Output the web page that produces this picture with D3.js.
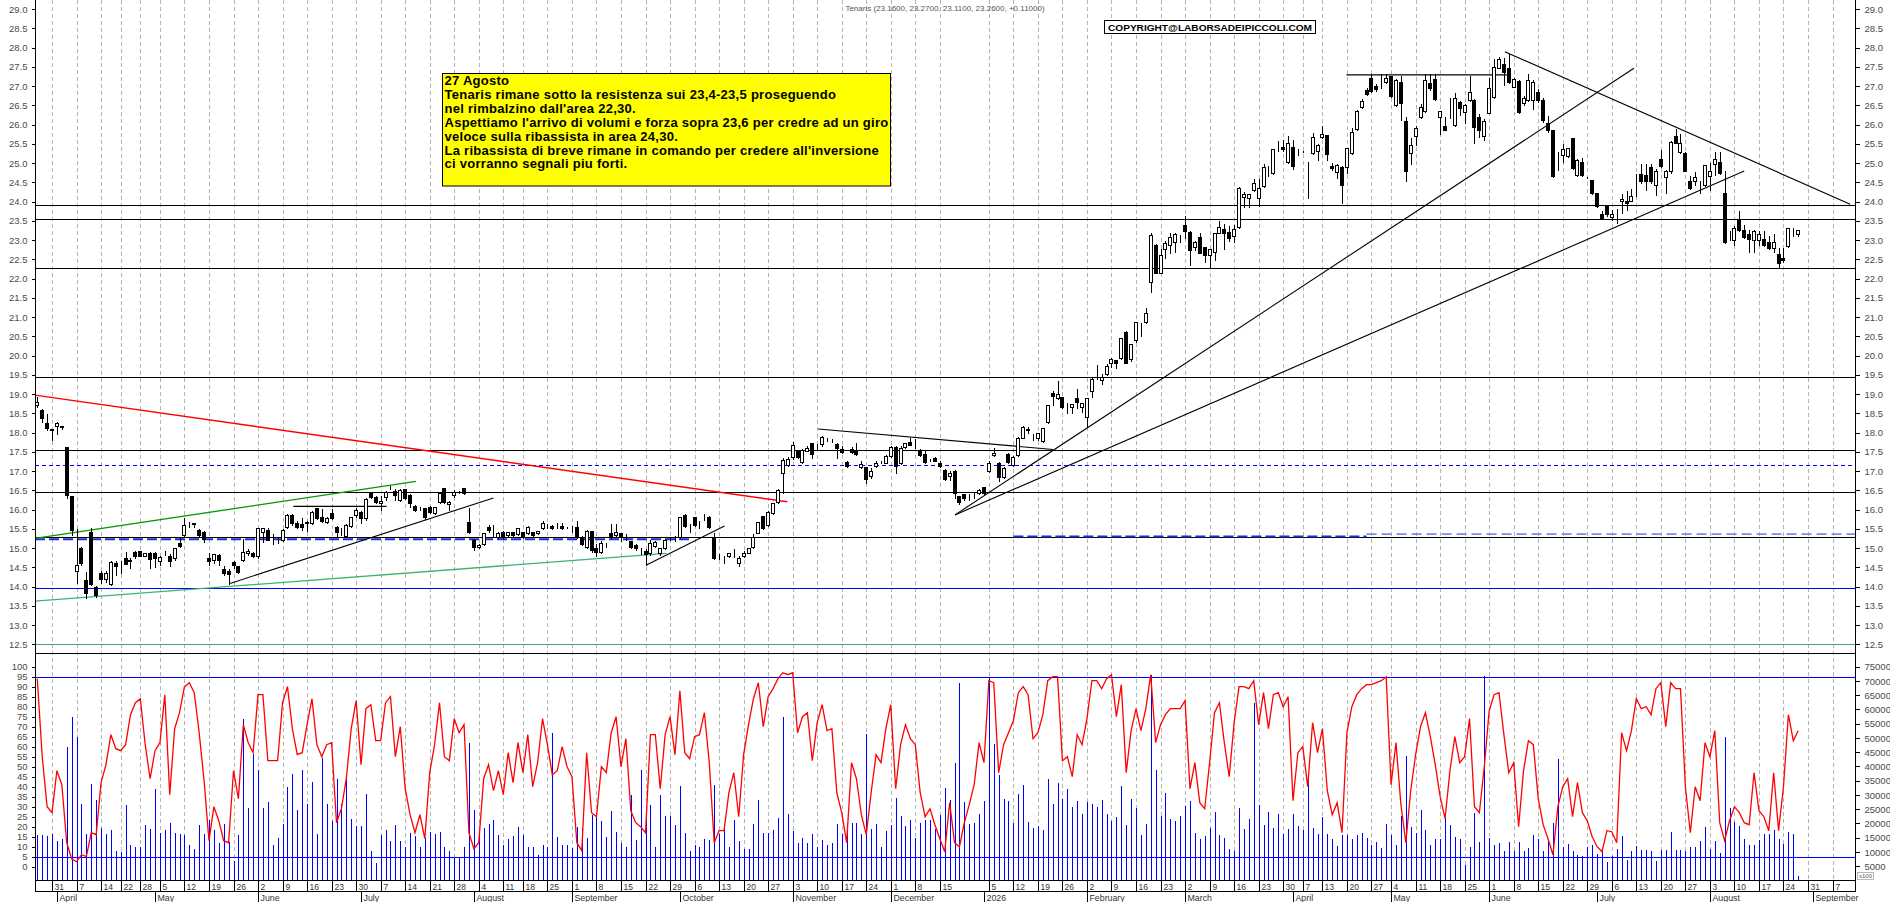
<!DOCTYPE html>
<html>
<head>
<meta charset="utf-8">
<script src="https://cdn.jsdelivr.net/npm/d3@7"></script>
<style>
body { margin: 0; background: #fff; }
svg { display: block; font-family: "Liberation Sans", Arial, sans-serif; }
</style>
</head>
<body>
<svg width="1890" height="902"></svg>
<script>
// Tenaris daily candles, 26 Mar 2025 -> 27 Aug 2026

let startDate = "2025-03-26";
let holidays = ["2025-04-18", "2025-04-21", "2025-05-01", "2025-08-15", "2025-12-24", "2025-12-25",
    "2025-12-26", "2025-12-31", "2026-01-01", "2026-04-03", "2026-04-06", "2026-05-01"];
let monthNames = ["January", "February", "March", "April", "May", "June", "July", "August",
    "September", "October", "November", "December"];

let openP = [
18.72,18.58,18.24,18.08,18.17,18.16,17.63,16.35,14.41,14.99,
14.17,15.42,13.98,14.36,14.19,14.06,14.62,14.62,14.73,14.65,
14.90,14.93,14.80,14.88,14.88,14.65,14.90,14.79,14.73,15.12,
15.34,15.64,15.64,15.47,15.41,14.73,14.69,14.82,14.46,14.39,
14.64,14.54,14.69,14.88,14.88,14.78,15.42,15.48,15.32,15.26,
15.21,15.55,15.86,15.66,15.62,15.67,15.64,16.03,15.81,15.68,
15.90,15.55,15.47,15.30,15.58,15.86,15.94,15.77,16.42,16.33,
16.16,16.33,16.55,16.48,16.25,16.52,16.38,16.10,16.03,16.03,
16.07,15.90,16.20,16.55,16.13,16.38,16.46,16.57,15.68,15.20,
15.03,15.10,15.55,15.34,15.29,15.42,15.34,15.42,15.37,15.42,
15.38,15.42,15.38,15.51,15.58,15.58,15.58,15.58,15.55,15.55,
15.55,15.29,15.02,15.45,14.99,14.90,15.12,15.40,15.34,15.38,
15.34,15.18,15.08,14.97,14.93,14.86,15.06,14.88,14.99,15.25,
15.22,15.29,15.86,15.55,15.80,15.62,15.81,15.81,15.29,14.82,
14.77,14.79,14.95,14.60,14.79,14.88,15.02,15.40,15.83,15.60,
15.90,16.20,16.96,17.16,17.36,17.53,17.23,17.53,17.72,17.63,
17.69,17.82,17.80,17.70,17.57,17.24,17.57,17.55,17.10,17.10,
16.87,17.13,17.24,17.22,17.39,17.63,17.20,17.63,17.76,17.63,
17.55,17.44,17.30,17.35,17.20,17.03,16.87,17.01,16.35,16.40,
16.35,16.40,16.42,16.58,17.01,17.42,17.22,16.85,17.44,17.16,
17.42,17.87,18.06,17.94,17.85,17.79,18.26,19.03,18.89,18.91,
18.69,18.65,18.89,18.67,18.41,19.09,19.49,19.36,19.52,19.81,
19.88,19.93,20.62,19.90,20.40,20.77,20.88,21.92,22.87,22.15,
22.76,22.87,22.96,23.10,23.39,23.22,22.81,23.09,22.83,22.61,
22.70,23.19,23.28,23.22,23.10,23.35,24.11,24.08,24.30,24.08,
24.40,24.73,24.73,25.38,25.41,25.03,25.42,25.27,25.32,25.02,
25.25,25.30,25.67,25.73,24.92,24.77,24.90,24.90,25.25,25.88,
26.45,26.90,27.20,27.00,26.96,27.11,27.26,26.51,27.11,26.10,
25.27,25.70,26.19,26.36,27.09,27.17,26.20,25.96,26.20,25.99,
26.59,26.33,26.64,26.64,26.19,25.70,26.30,26.72,27.48,27.57,
27.48,26.98,27.14,26.55,26.64,26.64,26.85,26.64,26.03,25.86,
25.18,25.21,25.18,25.64,24.69,25.03,24.63,24.56,24.23,23.68,
23.88,23.59,23.48,24.00,24.02,24.02,24.55,24.71,24.69,24.89,
24.43,25.10,24.63,24.78,25.70,25.28,25.25,24.52,24.54,24.40,
24.43,24.65,24.97,25.02,24.23,23.13,23.00,23.54,23.26,23.15,
23.00,23.00,23.03,22.96,22.80,22.64,22.52,22.85,23.13,23.16];

let highP = [
18.95,18.63,18.50,18.10,18.30,18.20,17.65,16.38,15.51,15.04,
14.41,15.55,14.04,14.43,14.43,14.70,14.69,14.69,14.91,14.76,
14.94,14.94,14.90,14.91,14.91,14.82,14.94,14.86,15.03,15.29,
15.81,15.71,15.68,15.51,15.47,14.90,14.75,14.86,14.56,14.47,
14.69,14.56,15.25,14.99,14.93,15.55,15.55,15.55,15.38,15.29,
15.51,15.90,15.90,15.72,15.81,15.73,15.99,16.07,16.03,15.84,
16.03,15.60,15.55,15.64,15.83,16.07,15.99,16.33,16.46,16.38,
16.38,16.50,16.64,16.55,16.55,16.55,16.42,16.14,16.09,16.07,
16.12,16.09,16.48,16.57,16.25,16.53,16.50,16.59,16.07,15.25,
15.12,15.42,15.62,15.62,15.45,15.47,15.45,15.45,15.55,15.45,
15.60,15.45,15.47,15.73,15.66,15.62,15.68,15.68,15.58,15.60,
15.73,15.34,15.49,15.47,15.12,15.21,15.16,15.64,15.66,15.42,
15.38,15.21,15.12,15.03,14.99,15.23,15.21,14.93,15.25,15.29,
15.34,15.83,15.90,15.64,15.83,15.73,15.90,15.87,15.42,14.86,
14.82,14.88,14.99,14.82,14.95,14.99,15.38,15.70,15.86,15.99,
16.20,16.57,17.36,17.38,17.77,17.57,17.59,17.68,17.76,17.72,
17.93,17.89,17.85,17.76,17.67,17.29,17.64,17.76,17.29,17.14,
17.10,17.29,17.29,17.44,17.68,17.68,17.68,17.76,17.89,17.85,
17.59,17.55,17.35,17.40,17.29,17.07,17.03,17.05,16.38,16.42,
16.42,16.46,16.55,16.60,17.29,17.63,17.25,17.12,17.50,17.42,
17.90,18.19,18.17,17.99,18.02,18.15,18.74,19.10,19.36,18.95,
18.80,18.77,19.15,18.80,18.93,19.45,19.78,19.54,19.80,19.95,
19.90,20.49,20.66,20.33,20.90,20.88,21.27,23.22,22.91,22.78,
22.99,23.22,23.22,23.15,23.65,23.26,23.00,23.22,22.84,22.78,
23.22,23.52,23.43,23.39,23.41,24.40,24.26,24.23,24.60,24.60,
24.99,24.95,25.38,25.60,25.62,25.73,25.62,25.38,25.35,25.04,
25.81,25.53,25.99,25.75,25.03,24.99,24.95,25.42,25.94,26.39,
26.68,26.98,27.33,27.07,27.35,27.35,27.29,27.20,27.29,26.22,
25.67,25.99,26.55,27.35,27.33,27.35,26.38,26.22,26.72,26.85,
26.64,26.55,27.29,26.68,26.29,26.16,27.24,27.72,27.78,27.76,
27.87,27.24,27.17,26.77,27.33,27.17,26.96,26.72,26.25,25.87,
25.32,25.51,25.42,25.67,25.12,25.15,24.65,24.58,24.25,23.78,
23.93,23.80,23.82,24.23,24.30,24.34,24.73,24.99,24.99,24.99,
24.86,25.36,24.84,25.60,25.90,25.79,25.30,24.69,24.80,24.56,
24.97,25.03,25.30,25.31,24.82,23.26,23.39,23.78,23.42,23.28,
23.28,23.26,23.26,23.13,23.17,22.81,22.83,23.35,23.35,23.27];

let lowP = [
18.65,18.28,18.06,17.80,17.95,18.10,16.30,15.34,14.08,14.56,
13.69,14.04,13.74,14.09,14.12,14.03,14.30,14.35,14.58,14.48,
14.74,14.78,14.78,14.47,14.51,14.56,14.81,14.53,14.69,15.03,
15.31,15.55,15.55,15.29,15.16,14.56,14.60,14.56,14.30,14.06,
14.47,14.34,14.65,14.82,14.77,14.74,15.16,15.20,15.10,15.14,
15.17,15.51,15.60,15.51,15.46,15.43,15.62,15.75,15.68,15.64,
15.75,15.30,15.34,15.28,15.55,15.81,15.66,15.73,16.29,16.16,
15.99,16.25,16.52,16.25,16.23,16.27,16.07,15.97,15.99,15.75,
15.90,15.88,16.16,16.18,15.99,16.33,16.42,16.40,15.38,14.95,
14.99,15.08,15.42,15.29,15.27,15.27,15.30,15.30,15.35,15.25,
15.36,15.30,15.36,15.49,15.51,15.49,15.51,15.49,15.51,15.42,
15.27,15.08,14.99,14.90,14.79,14.88,15.03,15.25,15.31,15.19,
15.21,15.01,14.95,14.84,14.55,14.82,15.03,14.82,14.97,15.21,
15.19,15.27,15.55,15.42,15.58,15.53,15.74,15.51,14.71,14.71,
14.60,14.77,14.77,14.53,14.77,14.86,15.00,15.38,15.49,15.58,
15.88,16.18,16.42,17.13,17.31,17.33,17.20,17.51,17.33,17.55,
17.65,17.79,17.76,17.33,17.48,17.10,17.48,17.42,17.07,16.70,
16.83,17.10,17.20,17.20,17.37,16.96,17.18,17.59,17.72,17.59,
17.38,17.22,17.25,17.25,17.10,16.77,16.77,16.31,16.14,16.25,
16.25,16.31,16.40,16.40,16.98,17.39,16.75,16.83,17.20,17.13,
17.40,17.85,17.98,17.80,17.80,17.76,18.24,18.71,18.86,18.63,
18.50,18.50,18.63,18.54,18.15,18.93,19.40,19.26,19.49,19.71,
19.67,19.90,19.80,19.86,20.36,20.51,20.85,21.66,22.13,22.13,
22.52,22.67,22.70,22.96,23.04,22.35,22.74,22.65,22.44,22.26,
22.48,23.17,22.76,22.98,22.96,23.30,23.87,23.87,24.27,23.88,
24.38,24.65,24.71,25.30,25.30,25.01,24.84,25.21,25.29,24.08,
25.23,25.09,25.64,25.09,24.82,24.60,23.97,24.73,25.23,25.86,
26.42,26.77,26.85,26.88,26.94,27.09,26.72,26.48,26.12,24.54,
24.97,25.47,26.16,26.33,26.90,26.64,25.75,25.86,26.16,25.96,
26.25,26.05,26.62,25.53,25.68,25.60,26.29,26.68,27.46,27.03,
27.09,26.97,26.31,26.51,26.62,26.40,26.59,26.07,25.81,24.64,
24.82,25.03,25.16,24.84,24.66,24.66,24.60,24.20,23.85,23.54,
23.62,23.52,23.44,23.69,23.78,24.00,24.13,24.49,24.30,24.49,
24.17,24.89,24.23,24.75,25.51,25.25,24.78,24.32,24.43,24.21,
24.40,24.30,24.69,24.71,22.93,23.00,22.87,23.24,23.06,22.70,
22.70,22.87,22.84,22.76,22.70,22.31,22.44,22.83,23.10,23.11];

let closeP = [
18.78,18.37,18.11,18.06,18.24,18.15,16.38,15.47,14.56,14.62,
13.82,14.06,13.78,14.19,14.36,14.64,14.53,14.60,14.58,14.70,
14.80,14.80,14.86,14.71,14.73,14.77,14.90,14.67,14.99,15.06,
15.60,15.64,15.62,15.34,15.23,14.65,14.84,14.69,14.34,14.32,
14.57,14.37,14.90,14.93,14.79,15.51,15.51,15.22,15.30,15.25,
15.48,15.86,15.64,15.54,15.55,15.66,15.93,15.77,15.71,15.79,
15.79,15.42,15.46,15.60,15.81,15.99,15.77,16.27,16.33,16.20,
16.22,16.46,16.55,16.38,16.51,16.29,16.16,15.99,16.03,15.80,
15.94,16.07,16.44,16.20,16.20,16.46,16.46,16.42,15.42,15.03,
15.09,15.40,15.47,15.34,15.40,15.29,15.42,15.34,15.51,15.31,
15.55,15.34,15.45,15.66,15.58,15.51,15.58,15.51,15.55,15.55,
15.29,15.10,15.45,14.95,14.90,15.14,15.12,15.29,15.42,15.29,
15.34,15.03,14.99,14.97,14.84,15.14,15.16,14.99,15.21,15.25,
15.22,15.81,15.57,15.55,15.60,15.62,15.81,15.54,14.73,14.82,
14.77,14.86,14.95,14.73,14.88,14.99,15.28,15.68,15.51,15.94,
16.16,16.50,17.29,17.31,17.68,17.37,17.55,17.61,17.44,17.63,
17.89,17.82,17.80,17.59,17.50,17.13,17.50,17.44,17.18,16.78,
17.01,17.20,17.24,17.39,17.63,17.13,17.59,17.72,17.68,17.63,
17.42,17.24,17.30,17.27,17.13,16.78,16.94,16.44,16.20,16.29,
16.35,16.40,16.51,16.44,17.22,17.48,16.85,17.07,17.24,17.37,
17.87,18.13,18.08,17.94,17.98,18.11,18.71,18.95,18.99,18.65,
18.69,18.74,18.78,18.76,18.89,19.38,19.49,19.45,19.73,19.90,
19.81,20.45,19.81,20.30,20.88,20.77,21.10,23.13,22.15,22.61,
22.93,23.09,23.15,23.10,23.24,22.74,22.96,22.67,22.61,22.76,
23.17,23.33,23.19,23.04,23.28,24.35,24.20,24.20,24.49,24.34,
24.90,24.73,25.36,25.38,25.36,25.51,24.92,25.27,25.32,25.02,
25.68,25.47,25.75,25.23,24.86,24.95,24.43,25.38,25.81,26.36,
26.62,26.79,26.88,26.91,26.96,27.22,26.74,27.16,26.55,24.78,
25.47,25.92,26.46,27.16,26.94,26.65,26.36,25.87,26.20,26.68,
26.42,26.51,26.85,25.94,25.87,26.10,26.94,27.50,27.69,27.37,
27.11,27.17,26.33,26.68,27.16,27.11,26.64,26.12,25.86,24.66,
25.18,25.36,25.38,24.86,25.09,24.69,24.63,24.21,23.88,23.56,
23.68,23.68,23.48,24.06,23.95,24.14,24.57,24.52,24.54,24.52,
24.78,24.91,24.80,25.55,25.53,25.51,24.80,24.34,24.63,24.39,
24.95,24.80,25.10,24.73,22.96,23.13,23.30,23.26,23.09,23.03,
23.23,23.15,22.87,22.78,22.94,22.40,22.48,23.30,23.13,23.26];

// volume in thousands (axis reads x100 units)
let volume = [
15.8,15.8,15.5,16.2,13.7,14.4,46.7,57.3,50.2,27.0,
16.4,33.7,28.1,18.3,16.4,17.6,10.5,10.1,26.6,12.6,
11.6,11.6,19.3,17.9,32.2,16.5,17.6,20.0,16.7,16.4,
15.8,12.3,10.9,19.3,16.2,21.1,17.6,13.0,19.7,13.5,
6.7,15.8,56.6,25.4,44.3,38.6,25.6,27.5,12.6,14.8,
19.7,32.7,37.2,24.9,38.6,27.0,34.5,16.2,43.1,26.7,
20.8,35.5,26.7,35.6,21.4,19.0,19.0,30.2,10.2,6.0,
15.8,17.6,13.7,19.3,13.7,11.6,16.5,15.5,11.6,14.8,
16.9,16.2,16.9,11.6,10.5,8.4,8.4,11.6,48.2,24.7,
17.3,18.3,19.7,21.2,15.8,12.6,14.4,15.5,18.6,16.0,
11.9,11.7,8.8,12.6,11.9,51.8,15.1,12.6,12.6,11.4,
18.7,18.4,14.9,23.1,22.5,20.7,15.1,24.4,17.0,13.1,
11.9,29.9,14.1,38.6,24.0,26.6,11.9,29.9,22.8,22.8,
19.3,33.0,16.6,10.2,12.3,11.7,14.4,14.1,33.4,16.2,
19.9,11.6,21.1,13.7,10.9,10.9,19.9,28.1,16.7,16.7,
17.6,22.0,57.4,23.5,17.2,13.2,15.0,13.0,16.2,11.6,
14.1,12.3,13.2,19.7,16.4,19.3,20.3,20.3,16.2,51.3,
17.9,19.7,11.9,17.2,19.3,29.0,22.8,19.0,21.1,14.9,
20.3,21.3,21.3,18.1,23.1,32.6,28.3,41.3,69.4,27.5,
19.7,20.3,23.4,27.8,71.4,47.8,37.1,28.5,27.9,20.3,
30.2,33.6,20.5,18.4,19.1,17.6,35.5,27.0,34.2,28.7,
32.0,25.8,27.9,23.2,27.4,26.7,25.8,28.1,23.2,20.8,
22.2,33.0,19.3,28.5,25.4,15.8,19.9,72.2,38.6,22.8,
30.7,21.7,20.8,22.5,26.0,27.8,16.6,14.4,15.5,18.4,
24.0,15.8,15.0,11.1,10.5,25.6,17.9,21.4,62.4,26.6,
19.3,24.0,18.5,23.2,16.4,17.9,23.2,19.0,17.6,35.4,
18.5,16.4,22.2,16.4,14.4,12.1,16.0,15.8,14.6,15.8,
16.7,15.0,12.3,13.5,11.4,19.7,15.8,12.6,22.5,43.6,
18.7,16.7,24.9,17.6,12.6,14.4,14.6,21.9,19.3,15.1,
14.4,5.6,11.7,23.7,13.5,71.8,14.9,12.6,13.1,10.5,
13.5,10.5,13.5,10.5,11.4,15.8,14.4,10.5,14.6,20.2,
42.6,11.7,12.9,10.5,9.1,8.5,11.7,12.6,9.4,10.8,
6.4,8.5,11.0,15.5,7.3,10.2,12.2,10.6,10.8,10.5,
6.7,10.8,10.8,17.1,10.8,10.8,10.5,11.7,11.7,13.7,
18.7,11.0,14.0,9.7,50.5,25.3,20.4,19.0,14.7,12.6,
12.6,14.1,16.3,16.3,17.8,14.6,12.8,16.9,16.2,1.7];

// red oscillator, 0-100
let oscillator = [
94,55,30,27,48,41,12,4,2.5,6,
5,17,16,42,51,66,59,58,61,76,
82,84,61,44,58,62,86,36,69,77,
90,92,87,67,43,13,30,23,13,12,
48,34,71,62,57,86,86,53,53,53,
82,90,69,56,57,71,84,61,55,61,
62,22,29,44,69,83,51,79,81,63,
63,82,85,55,70,39,26,17,26,14,
47,61,82,55,53,74,67,71,17,9,
12,44,51,38,48,36,57,42,62,47,
66,40,52,74,61,46,48,60,50,45,
12,8,57,27,25,50,47,67,75,50,
64,28,22,20,17,66,66,39,66,75,
56,88,57,54,65,66,77,52,12,18,
18,37,47,25,56,71,84,92,70,85,
89,94,97,96,97,67,75,77,53,72,
81,68,69,37,27,12,52,44,26,16,
37,56,52,69,81,39,61,71,64,61,
37,25,29,21,14,7.5,32,12,10,22,
31,41,62,52,93,92,47,61,67,73,
87,90,86,64,67,76,93,95,95,53,
55,45,66,61,74,93,93,89,94,96,
75,91,47,68,79,68,79,96,62,71,
76,79,79,79,83,39,52,32,29,52,
77,82,62,45,72,90,90,89,93,71,
87,69,86,87,80,85,33,57,60,40,
72,57,69,38,26,32,17,67,80,86,
89,91,91,92,93,95,41,62,31,12,
38,56,70,77,65,51,35,24,48,65,
52,55,74,30,27,50,78,86,87,66,
47,52,20,48,63,61,34,21,14,6,
30,40,44,25,42,27,23,15,10,7.5,
18,17.5,12,67,58,68,84,79,80,76,
89,92,70,92,89,89,40,17,40,33,
62,55,68,22,13,23,30,27,22,21,
47,28,25,18,47,18,40,76,63,68];

// support / resistance levels (price)
let blackLevels = [23.9, 23.54, 22.27, 19.43, 17.54, 16.45, 15.29];
let blueDottedLevels = [17.15];
let blueLevels = [13.95];
let greenLevels = [12.5];
// oscillator bands
let oscBands = [95, 5];

// trend lines as [bar index, price, bar index, price]
let redLines = [[-0.47, 18.97, 152.9, 16.2]];
let darkGreenLines = [[-0.47, 15.25, 77.2, 16.73]];
let lightGreenLines = [[-0.47, 13.62, 128.3, 14.86]];
let blackLines = [
    [39.3, 14.08, 93, 16.3], [52.2, 16.08, 71.2, 16.08], [124.2, 14.56, 140.1, 15.57],
    [159.2, 18.09, 207.1, 17.56], [187.1, 15.86, 325.5, 27.46], [187.1, 15.86, 348, 24.79],
    [266.9, 27.29, 299.6, 27.29], [299.2, 27.89, 369.6, 23.93]];
let blueDashLines = [[-0.47, 15.23, 133, 15.23], [199, 15.3, 271, 15.3]];
let paleBlueDashLines = [[271, 15.36, 370.6, 15.36]];

// axis tick values
let priceTicks = [12.5, 13.0, 13.5, 14.0, 14.5, 15.0, 15.5, 16.0, 16.5, 17.0, 17.5, 18.0, 18.5, 19.0,
    19.5, 20.0, 20.5, 21.0, 21.5, 22.0, 22.5, 23.0, 23.5, 24.0, 24.5, 25.0, 25.5, 26.0, 26.5, 27.0,
    27.5, 28.0, 28.5, 29.0];
let oscTicks = [0, 5, 10, 15, 20, 25, 30, 35, 40, 45, 50, 55, 60, 65, 70, 75, 80, 85, 90, 95, 100];
let volTicks = [5, 10, 15, 20, 25, 30, 35, 40, 45, 50, 55, 60, 65, 70, 75];

let titleText = "Tenaris (23.1600, 23.2700, 23.1100, 23.2600, +0.11000)";
let copyrightText = "COPYRIGHT@LABORSADEIPICCOLI.COM";
let noteLines = [
    "27 Agosto",
    "Tenaris rimane sotto la resistenza sui 23,4-23,5 proseguendo",
    "nel rimbalzino dall'area 22,30.",
    "Aspettiamo l'arrivo di volumi e forza sopra 23,6 per credre ad un giro",
    "veloce sulla ribassista in area 24,30.",
    "La ribassista di breve rimane in comando per credere all'inversione",
    "ci vorranno segnali piu forti."];

// Set up layout
let svg = d3.select("svg");
let left = 35, right = 1855;
let priceBottom = 653.5, lowerBottom = 880.5, axisRow = 891.5, bottom = 902;
let n = closeP.length;

let x = d3.scaleLinear().domain([0, n - 1]).range([37.3, 1798.2]);
let yP = d3.scaleLinear().domain([12, 29]).range([663.5, 9]);
let yOsc = d3.scaleLinear().domain([0, 100]).range([866.7, 666.7]);
let yVol = d3.scaleLinear().domain([0, 75]).range([880.5, 666.7]);

function px(v) { return Math.round(v) + 0.5; }

// Trading day calendar (for the date axis)
let iso = d3.timeFormat("%Y-%m-%d");
let days = [];
let cur = new Date(startDate + "T12:00:00");
while (days.length < n + 12) {
    let wd = cur.getDay();
    if (wd !== 0 && wd !== 6 && holidays.indexOf(iso(cur)) < 0) days.push(new Date(cur));
    cur.setDate(cur.getDate() + 1);
}

let weekTicks = [];
days.forEach(function(d, i) {
    let wk = +d3.timeMonday.floor(d);
    let last = weekTicks[weekTicks.length - 1];
    if (!last || last.wk !== wk) weekTicks.push({wk: wk, i: i, day: d.getDate(), count: 1});
    else last.count++;
});
weekTicks = weekTicks.filter(function(t) { return t.count > 3 && x(t.i) < right - 4; });

let monthTicks = [];
days.forEach(function(d, i) {
    if (i > 0 && d.getMonth() !== days[i - 1].getMonth() && x(i) < right - 4) {
        monthTicks.push({i: i, label: d.getMonth() === 0 ? String(d.getFullYear()) : monthNames[d.getMonth()]});
    }
});

svg.append("rect").attr("width", 1890).attr("height", 902).attr("fill", "#fff");

// Dashed week grid
svg.append("g").selectAll("line")
    .data(weekTicks)
    .enter().append("line")
    .attr("x1", function(d) { return px(x(d.i)); })
    .attr("x2", function(d) { return px(x(d.i)); })
    .attr("y1", 0)
    .attr("y2", lowerBottom)
    .attr("stroke", "#b4b4b4")
    .attr("stroke-dasharray", "4,3")
    .attr("shape-rendering", "crispEdges");

// Horizontal levels in the price panel
function levels(vals, color, dash, w) {
    svg.append("g").selectAll("line")
        .data(vals)
        .enter().append("line")
        .attr("x1", left).attr("x2", right)
        .attr("y1", function(d) { return px(yP(d)); })
        .attr("y2", function(d) { return px(yP(d)); })
        .attr("stroke", color)
        .attr("stroke-width", w)
        .attr("stroke-dasharray", dash)
        .attr("shape-rendering", "crispEdges");
}
levels(greenLevels, "#4c9c78", null, 1);
levels(blueLevels, "#0000ff", null, 1.5);
levels(blueDottedLevels, "#0000ff", "4,3", 1.5);
levels(blackLevels, "#000", null, 1);

// Trend lines
function trend(lines, color, w, dash) {
    svg.append("g").selectAll("line")
        .data(lines)
        .enter().append("line")
        .attr("x1", function(d) { return x(d[0]); })
        .attr("y1", function(d) { return yP(d[1]); })
        .attr("x2", function(d) { return x(d[2]); })
        .attr("y2", function(d) { return yP(d[3]); })
        .attr("stroke", color)
        .attr("stroke-width", w)
        .attr("stroke-dasharray", dash);
}
trend(blueDashLines, "#1a2fd0", 2, "10,4");
trend(paleBlueDashLines, "#7a8ee6", 1.6, "10,5");
trend(redLines, "#ff0000", 1.4, null);
trend(darkGreenLines, "#009900", 1.3, null);
trend(lightGreenLines, "#3cb371", 1.3, null);
trend(blackLines, "#000", 1.1, null);

// Candles
let candles = svg.append("g")
    .attr("shape-rendering", "crispEdges")
    .selectAll("g")
    .data(d3.range(n))
    .enter().append("g");

candles.append("line")
    .attr("x1", function(i) { return px(x(i)); })
    .attr("x2", function(i) { return px(x(i)); })
    .attr("y1", function(i) { return px(yP(highP[i])); })
    .attr("y2", function(i) { return px(yP(lowP[i])); })
    .attr("stroke", "#000");

candles.append("rect")
    .attr("x", function(i) { return Math.round(x(i)) - 1.5; })
    .attr("width", 3)
    .attr("y", function(i) { return px(yP(Math.max(openP[i], closeP[i]))); })
    .attr("height", function(i) {
        return px(yP(Math.min(openP[i], closeP[i]))) - px(yP(Math.max(openP[i], closeP[i])));
    })
    .attr("fill", function(i) { return closeP[i] >= openP[i] ? "#fff" : "#000"; })
    .attr("stroke", "#000");

// Lower panel: volume bars, bands, oscillator
svg.append("g").selectAll("line")
    .data(d3.range(n))
    .enter().append("line")
    .attr("x1", function(i) { return px(x(i)); })
    .attr("x2", function(i) { return px(x(i)); })
    .attr("y1", yVol(0))
    .attr("y2", function(i) { return yVol(volume[i]); })
    .attr("stroke", "#0000ff")
    .attr("stroke-width", 1.2)
    .attr("shape-rendering", "crispEdges");

svg.append("g").selectAll("line")
    .data(oscBands)
    .enter().append("line")
    .attr("x1", left).attr("x2", right)
    .attr("y1", function(d) { return px(yOsc(d)); })
    .attr("y2", function(d) { return px(yOsc(d)); })
    .attr("stroke", "#0000ff")
    .attr("stroke-width", 1.5)
    .attr("shape-rendering", "crispEdges");

let oscLine = d3.line()
    .x(function(d, i) { return x(i); })
    .y(function(d) { return yOsc(d); });

svg.append("path")
    .datum(oscillator)
    .attr("d", oscLine)
    .attr("fill", "none")
    .attr("stroke", "#ff0000")
    .attr("stroke-width", 1.3);

// Frame lines
let frame = svg.append("g").attr("stroke", "#000").attr("shape-rendering", "crispEdges");
frame.append("line").attr("x1", px(left)).attr("x2", px(left)).attr("y1", 0).attr("y2", axisRow);
frame.append("line").attr("x1", px(right)).attr("x2", px(right)).attr("y1", 0).attr("y2", axisRow);
frame.append("line").attr("x1", left).attr("x2", right).attr("y1", priceBottom).attr("y2", priceBottom).attr("stroke-width", 1.5);
frame.append("line").attr("x1", left).attr("x2", right).attr("y1", lowerBottom).attr("y2", lowerBottom).attr("stroke-width", 1.5);
frame.append("line").attr("x1", left).attr("x2", right).attr("y1", axisRow).attr("y2", axisRow);

// Value axes
function styleAxis(g) {
    g.select(".domain").remove();
    g.selectAll("text").attr("font-family", "Liberation Sans, Arial, sans-serif")
        .attr("font-size", 9.5).attr("fill", "#4a4a4a");
    g.selectAll("line").attr("stroke", "#000").attr("shape-rendering", "crispEdges");
}

let fmtPrice = d3.format(".1f");
svg.append("g").attr("transform", "translate(" + px(left) + ",0)")
    .call(d3.axisLeft(yP).tickValues(priceTicks).tickFormat(fmtPrice).tickSize(4).tickPadding(4))
    .call(styleAxis);
svg.append("g").attr("transform", "translate(" + px(right) + ",0)")
    .call(d3.axisRight(yP).tickValues(priceTicks).tickFormat(fmtPrice).tickSize(4).tickPadding(5))
    .call(styleAxis);
svg.append("g").attr("transform", "translate(" + px(left) + ",0)")
    .call(d3.axisLeft(yOsc).tickValues(oscTicks).tickSize(4).tickPadding(4))
    .call(styleAxis);
svg.append("g").attr("transform", "translate(" + px(right) + ",0)")
    .call(d3.axisRight(yVol).tickValues(volTicks).tickFormat(function(d) { return String(d * 1000); }).tickSize(4).tickPadding(5))
    .call(styleAxis);

svg.append("rect").attr("x", right + 2.5).attr("y", 872.5).attr("width", 16).attr("height", 7)
    .attr("fill", "#fff").attr("stroke", "#888").attr("stroke-width", 0.6);
svg.append("text").attr("x", right + 10.5).attr("y", 878.3).attr("text-anchor", "middle")
    .attr("font-size", 6).attr("fill", "#555").text("x100");

// Date axis
let dateAxis = svg.append("g");
dateAxis.selectAll("line.wk")
    .data(weekTicks)
    .enter().append("line")
    .attr("class", "wk")
    .attr("x1", function(d) { return px(x(d.i)); })
    .attr("x2", function(d) { return px(x(d.i)); })
    .attr("y1", lowerBottom).attr("y2", axisRow)
    .attr("stroke", "#000").attr("shape-rendering", "crispEdges");
dateAxis.selectAll("text.wk")
    .data(weekTicks)
    .enter().append("text")
    .attr("class", "wk")
    .attr("x", function(d) { return px(x(d.i)) + 2; })
    .attr("y", 889.5)
    .attr("font-size", 8.5).attr("fill", "#333")
    .text(function(d) { return d.day; });
dateAxis.selectAll("line.mo")
    .data(monthTicks)
    .enter().append("line")
    .attr("class", "mo")
    .attr("x1", function(d) { return px(x(d.i)); })
    .attr("x2", function(d) { return px(x(d.i)); })
    .attr("y1", axisRow).attr("y2", bottom)
    .attr("stroke", "#000").attr("shape-rendering", "crispEdges");
dateAxis.selectAll("text.mo")
    .data(monthTicks)
    .enter().append("text")
    .attr("class", "mo")
    .attr("x", function(d) { return px(x(d.i)) + 2; })
    .attr("y", 900.5)
    .attr("font-size", 8.8).attr("fill", "#333")
    .text(function(d) { return d.label; });

// Title and copyright
svg.append("text").attr("x", 945).attr("y", 11).attr("text-anchor", "middle")
    .attr("font-size", 8).attr("fill", "#555").text(titleText);

svg.append("rect").attr("x", 1104.5).attr("y", 20.5).attr("width", 211).attr("height", 13)
    .attr("fill", "#fff").attr("stroke", "#000");
svg.append("text").attr("x", 1108).attr("y", 30.8)
    .attr("font-size", 9.5).attr("font-weight", "bold").attr("fill", "#000")
    .attr("textLength", 204).attr("lengthAdjust", "spacingAndGlyphs")
    .text(copyrightText);

// Comment box: bold text, spaced out so the longest line fills the box
svg.append("rect").attr("x", 442.5).attr("y", 73.5).attr("width", 448).attr("height", 112.5)
    .attr("fill", "#ffff00").attr("stroke", "#000");
let note = svg.append("g");
note.selectAll("text")
    .data(noteLines)
    .enter().append("text")
    .attr("x", 444.5)
    .attr("y", function(d, i) { return 85 + i * 13.9; })
    .attr("font-size", 13).attr("font-weight", "bold").attr("fill", "#000")
    .text(function(d) { return d; });
let longest = note.selectAll("text").nodes().reduce(function(a, t) {
    return t.getComputedTextLength() > a.getComputedTextLength() ? t : a;
});
let spare = 444 - longest.getComputedTextLength();
note.selectAll("text").attr("letter-spacing", (spare / longest.textContent.length).toFixed(3) + "px");
</script>
</body>
</html>
